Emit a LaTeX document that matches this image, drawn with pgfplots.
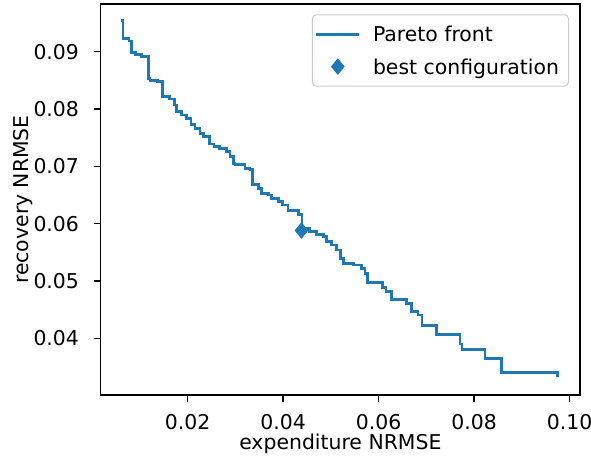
\documentclass[border=0pt]{standalone}
\usepackage{fontspec}
\setmainfont{DejaVu Sans}
\usepackage{pgfplots}
\pgfplotsset{compat=1.18}
\definecolor{mplblue}{HTML}{1F77B4}
\begin{document}
\fontsize{15.3}{18.3}\selectfont
\begin{tikzpicture}
\begin{axis}[
  scale only axis,
  width=359.5pt, height=293.25pt,
  xmin=0.00178, xmax=0.10216,
  ymin=0.03011, ymax=0.09832,
  xtick={0.02,0.04,0.06,0.08,0.10},
  ytick={0.04,0.05,0.06,0.07,0.08,0.09},
  scaled ticks=false,
  /pgf/number format/.cd, fixed, fixed zerofill, precision=2, assume math mode=true,
  /pgfplots/.cd,
  tick pos=left,
  tick align=outside,
  major tick length=5.1pt,
  every tick/.style={black, line width=1.1pt},
  axis line style={line width=1.1pt},
  xticklabel style={anchor=base, inner sep=0pt, yshift=-20.7pt},
  yticklabel style={anchor=east, inner sep=0pt, xshift=-11pt},
  every axis x label/.style={at={(axis description cs:0.5,0)}, anchor=base, inner sep=0pt, yshift=-40.9pt},
  every axis y label/.style={at={(axis description cs:0,0.5)}, anchor=south, inner sep=0pt, xshift=-50.8pt, rotate=90},
  xlabel={expenditure NRMSE},
  ylabel={recovery NRMSE},
  legend cell align=left,
  legend style={at={(1,1)}, anchor=north east, xshift=-8.25pt, yshift=-7.7pt,
    draw=black!20, line width=0.75pt, rounded corners=3pt, fill=white, fill opacity=0.8, text opacity=1,
    inner xsep=1.85pt, inner ysep=5pt, row sep=5.25pt,
    nodes={inner sep=1pt, text height=14.1pt, text depth=3pt}},
]
\addplot[const plot, color=mplblue, line width=2.2pt,
  legend image code/.code={\draw[mplblue, line width=2.2pt, draw opacity=1] (0pt,0pt) -- (32.4pt,0pt);\path (40.5pt,0pt);}]
  table[row sep=\\] {
x y\\
0.00614 0.09544\\
0.00645 0.09234\\
0.00771 0.09187\\
0.00827 0.08990\\
0.00911 0.08955\\
0.01037 0.08913\\
0.01175 0.08536\\
0.01211 0.08494\\
0.01372 0.08477\\
0.01476 0.08215\\
0.01629 0.08175\\
0.01719 0.08070\\
0.01770 0.07953\\
0.01874 0.07896\\
0.01979 0.07838\\
0.02069 0.07734\\
0.02153 0.07664\\
0.02258 0.07577\\
0.02341 0.07517\\
0.02452 0.07390\\
0.02551 0.07343\\
0.02676 0.07315\\
0.02817 0.07256\\
0.02886 0.07169\\
0.02955 0.07053\\
0.02991 0.07024\\
0.03200 0.06966\\
0.03305 0.06937\\
0.03361 0.06675\\
0.03479 0.06617\\
0.03550 0.06530\\
0.03688 0.06500\\
0.03759 0.06443\\
0.03897 0.06384\\
0.03990 0.06326\\
0.04101 0.06230\\
0.04316 0.06152\\
0.04394 0.05920\\
0.04561 0.05860\\
0.04702 0.05815\\
0.04840 0.05773\\
0.04911 0.05686\\
0.05016 0.05628\\
0.05120 0.05541\\
0.05200 0.05396\\
0.05273 0.05309\\
0.05468 0.05279\\
0.05640 0.05222\\
0.05713 0.05123\\
0.05765 0.04966\\
0.06080 0.04887\\
0.06153 0.04809\\
0.06268 0.04674\\
0.06586 0.04611\\
0.06691 0.04465\\
0.06823 0.04407\\
0.06907 0.04221\\
0.07215 0.04064\\
0.07703 0.03901\\
0.07745 0.03809\\
0.08226 0.03652\\
0.08576 0.03401\\
0.09749 0.03321\\
};
\addlegendentry{Pareto front}
\addplot[only marks, mark=diamond*, mark size=5.6pt, color=mplblue,
  mark options={xscale=1.1, line width=0.8pt, fill=mplblue, draw=mplblue},
  legend image code/.code={\draw[mplblue, fill opacity=1, draw opacity=1, mark=diamond*, mark size=5.6pt, mark options={xscale=1.1, line width=0.8pt, fill=mplblue, draw=mplblue, fill opacity=1, draw opacity=1}] plot coordinates {(16.2pt,0pt)};\path (0pt,0pt) (40.5pt,0pt);}]
  coordinates {(0.04383,0.05881)};
\addlegendentry{best configuration\kern4.3pt}
\end{axis}
\pgfresetboundingbox
\path[use as bounding box] ([shift={(-75.5pt,-48pt)}]current axis.south west) rectangle ([shift={(8.25pt,3pt)}]current axis.north east);
\end{tikzpicture}
\end{document}
